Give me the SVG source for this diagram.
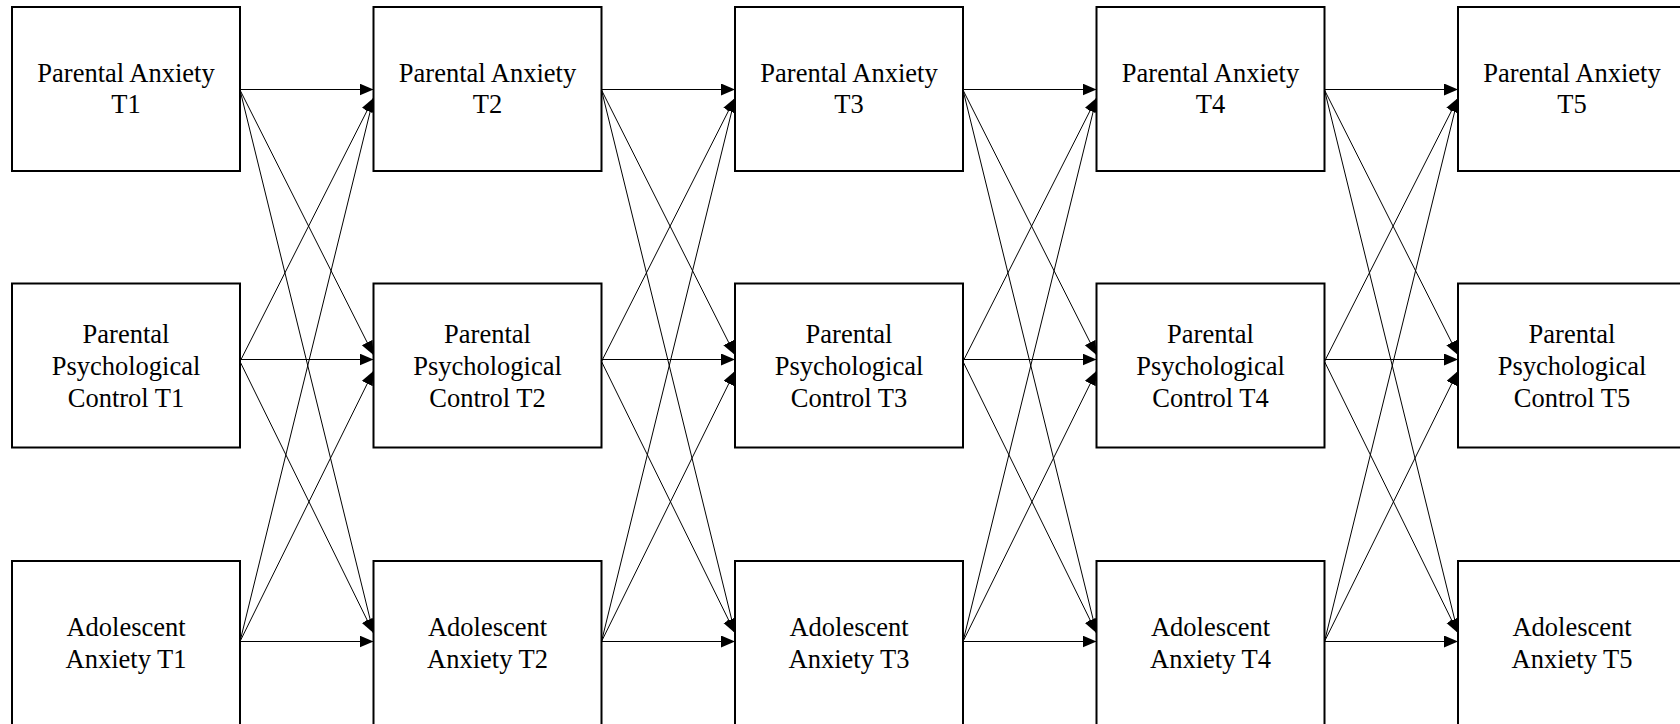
<svg xmlns="http://www.w3.org/2000/svg" width="1680" height="724" viewBox="0 0 1680 724">
  <style>
    .box { fill: #fff; stroke: #000; stroke-width: 2; }
    .lbl { font-family: 'Liberation Serif', 'Times New Roman', Tinos, 'DejaVu Serif', serif; font-size: 26.5px; fill: #000; text-anchor: middle; }
    .edge { stroke: #000; stroke-width: 1; fill: none; marker-end: url(#arrow); }
  </style>
  <defs>
    <marker id="arrow" markerUnits="userSpaceOnUse" markerWidth="15" markerHeight="13" refX="14" refY="6" orient="auto">
      <path d="M0,0 L14,6 L0,12 z" fill="#000"/>
    </marker>
  </defs>
  <rect width="1680" height="724" fill="#fff"/>

  <!-- connectors: cross-lagged paths between waves -->
  <g id="connectors">
    <!-- T1 to T2 -->
    <line class="edge" x1="240" y1="89.5" x2="373.5" y2="89.5"/>
    <line class="edge" x1="240" y1="90" x2="373.5" y2="355"/>
    <line class="edge" x1="240" y1="90" x2="373.5" y2="633"/>
    <line class="edge" x1="240" y1="361.5" x2="373.5" y2="98"/>
    <line class="edge" x1="240" y1="359.5" x2="373.5" y2="359.5"/>
    <line class="edge" x1="240" y1="361.5" x2="373.5" y2="633"/>
    <line class="edge" x1="240" y1="641.5" x2="373.5" y2="98"/>
    <line class="edge" x1="240" y1="641.5" x2="373.5" y2="371"/>
    <line class="edge" x1="240" y1="641.5" x2="373.5" y2="641.5"/>
    <!-- T2 to T3 -->
    <line class="edge" x1="601.5" y1="89.5" x2="735" y2="89.5"/>
    <line class="edge" x1="601.5" y1="90" x2="735" y2="355"/>
    <line class="edge" x1="601.5" y1="90" x2="735" y2="633"/>
    <line class="edge" x1="601.5" y1="361.5" x2="735" y2="98"/>
    <line class="edge" x1="601.5" y1="359.5" x2="735" y2="359.5"/>
    <line class="edge" x1="601.5" y1="361.5" x2="735" y2="633"/>
    <line class="edge" x1="601.5" y1="641.5" x2="735" y2="98"/>
    <line class="edge" x1="601.5" y1="641.5" x2="735" y2="371"/>
    <line class="edge" x1="601.5" y1="641.5" x2="735" y2="641.5"/>
    <!-- T3 to T4 -->
    <line class="edge" x1="963" y1="89.5" x2="1096.5" y2="89.5"/>
    <line class="edge" x1="963" y1="90" x2="1096.5" y2="355"/>
    <line class="edge" x1="963" y1="90" x2="1096.5" y2="633"/>
    <line class="edge" x1="963" y1="361.5" x2="1096.5" y2="98"/>
    <line class="edge" x1="963" y1="359.5" x2="1096.5" y2="359.5"/>
    <line class="edge" x1="963" y1="361.5" x2="1096.5" y2="633"/>
    <line class="edge" x1="963" y1="641.5" x2="1096.5" y2="98"/>
    <line class="edge" x1="963" y1="641.5" x2="1096.5" y2="371"/>
    <line class="edge" x1="963" y1="641.5" x2="1096.5" y2="641.5"/>
    <!-- T4 to T5 -->
    <line class="edge" x1="1324.5" y1="89.5" x2="1458" y2="89.5"/>
    <line class="edge" x1="1324.5" y1="90" x2="1458" y2="355"/>
    <line class="edge" x1="1324.5" y1="90" x2="1458" y2="633"/>
    <line class="edge" x1="1324.5" y1="361.5" x2="1458" y2="98"/>
    <line class="edge" x1="1324.5" y1="359.5" x2="1458" y2="359.5"/>
    <line class="edge" x1="1324.5" y1="361.5" x2="1458" y2="633"/>
    <line class="edge" x1="1324.5" y1="641.5" x2="1458" y2="98"/>
    <line class="edge" x1="1324.5" y1="641.5" x2="1458" y2="371"/>
    <line class="edge" x1="1324.5" y1="641.5" x2="1458" y2="641.5"/>
  </g>

  <!-- Wave 1 -->
  <g id="pa-t1"><rect class="box" x="12" y="7" width="228" height="164"/>
    <text class="lbl" x="126" y="81.5">Parental Anxiety</text><text class="lbl" x="126" y="113">T1</text></g>
  <g id="pc-t1"><rect class="box" x="12" y="283.5" width="228" height="164"/>
    <text class="lbl" x="126" y="342.5">Parental</text><text class="lbl" x="126" y="374.5">Psychological</text><text class="lbl" x="126" y="406.5">Control T1</text></g>
  <g id="aa-t1"><rect class="box" x="12" y="561" width="228" height="164"/>
    <text class="lbl" x="126" y="635.5">Adolescent</text><text class="lbl" x="126" y="667.5">Anxiety T1</text></g>

  <!-- Wave 2 -->
  <g id="pa-t2"><rect class="box" x="373.5" y="7" width="228" height="164"/>
    <text class="lbl" x="487.5" y="81.5">Parental Anxiety</text><text class="lbl" x="487.5" y="113">T2</text></g>
  <g id="pc-t2"><rect class="box" x="373.5" y="283.5" width="228" height="164"/>
    <text class="lbl" x="487.5" y="342.5">Parental</text><text class="lbl" x="487.5" y="374.5">Psychological</text><text class="lbl" x="487.5" y="406.5">Control T2</text></g>
  <g id="aa-t2"><rect class="box" x="373.5" y="561" width="228" height="164"/>
    <text class="lbl" x="487.5" y="635.5">Adolescent</text><text class="lbl" x="487.5" y="667.5">Anxiety T2</text></g>

  <!-- Wave 3 -->
  <g id="pa-t3"><rect class="box" x="735" y="7" width="228" height="164"/>
    <text class="lbl" x="849" y="81.5">Parental Anxiety</text><text class="lbl" x="849" y="113">T3</text></g>
  <g id="pc-t3"><rect class="box" x="735" y="283.5" width="228" height="164"/>
    <text class="lbl" x="849" y="342.5">Parental</text><text class="lbl" x="849" y="374.5">Psychological</text><text class="lbl" x="849" y="406.5">Control T3</text></g>
  <g id="aa-t3"><rect class="box" x="735" y="561" width="228" height="164"/>
    <text class="lbl" x="849" y="635.5">Adolescent</text><text class="lbl" x="849" y="667.5">Anxiety T3</text></g>

  <!-- Wave 4 -->
  <g id="pa-t4"><rect class="box" x="1096.5" y="7" width="228" height="164"/>
    <text class="lbl" x="1210.5" y="81.5">Parental Anxiety</text><text class="lbl" x="1210.5" y="113">T4</text></g>
  <g id="pc-t4"><rect class="box" x="1096.5" y="283.5" width="228" height="164"/>
    <text class="lbl" x="1210.5" y="342.5">Parental</text><text class="lbl" x="1210.5" y="374.5">Psychological</text><text class="lbl" x="1210.5" y="406.5">Control T4</text></g>
  <g id="aa-t4"><rect class="box" x="1096.5" y="561" width="228" height="164"/>
    <text class="lbl" x="1210.5" y="635.5">Adolescent</text><text class="lbl" x="1210.5" y="667.5">Anxiety T4</text></g>

  <!-- Wave 5 -->
  <g id="pa-t5"><rect class="box" x="1458" y="7" width="228" height="164"/>
    <text class="lbl" x="1572" y="81.5">Parental Anxiety</text><text class="lbl" x="1572" y="113">T5</text></g>
  <g id="pc-t5"><rect class="box" x="1458" y="283.5" width="228" height="164"/>
    <text class="lbl" x="1572" y="342.5">Parental</text><text class="lbl" x="1572" y="374.5">Psychological</text><text class="lbl" x="1572" y="406.5">Control T5</text></g>
  <g id="aa-t5"><rect class="box" x="1458" y="561" width="228" height="164"/>
    <text class="lbl" x="1572" y="635.5">Adolescent</text><text class="lbl" x="1572" y="667.5">Anxiety T5</text></g>
</svg>
